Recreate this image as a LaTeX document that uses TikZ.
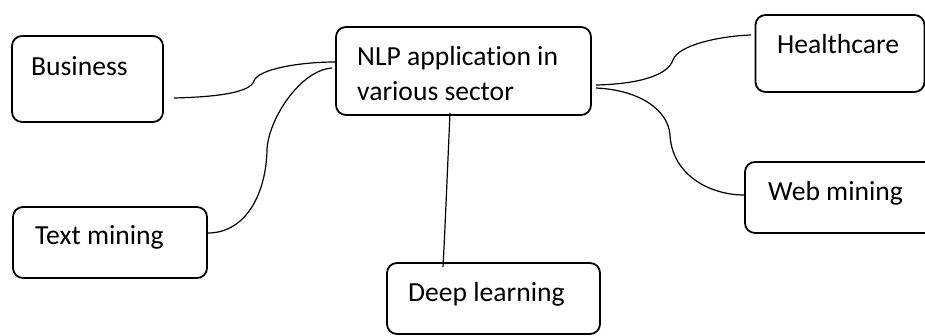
\documentclass[tikz,border=0pt]{standalone}
\usepackage{fontspec}
\setmainfont{Carlito}[Ligatures={NoCommon,NoContextual,NoRare}]
\begin{document}
\begin{tikzpicture}[x=1pt,y=-1pt,
  box/.style={draw, line width=1.8pt, rounded corners=10pt, rectangle, inner sep=0pt},
  lbl/.style={anchor=base west, inner sep=0pt, font=\fontsize{27.6}{33}\selectfont},
  link/.style={line width=1.2pt}]
\useasboundingbox (0,0) rectangle (925,335);

% boxes
\node[box, minimum width=151pt, minimum height=86pt] (bus)  at (87.5,79) {};
\node[box, minimum width=255pt, minimum height=88pt] (cen)  at (463.5,71) {};
\node[box, minimum width=169pt, minimum height=77pt] (hc)   at (840,53.5) {};
\node[box, minimum width=200pt, minimum height=71pt] (web)  at (845,197.5) {};
\node[box, minimum width=194pt, minimum height=71pt] (txt)  at (110,242.5) {};
\node[box, minimum width=213pt, minimum height=71pt] (deep) at (493.5,298.5) {};

% labels
\node[lbl] (busl)  at (31,75)  {Business};
\node[lbl] (cenl1) at (357,65) {NLP application in};
\node[lbl] (cenl2) at (357,100) {various sector};
\node[lbl] (hcl)   at (777,53) {Healthcare};
\node[lbl] (webl)  at (768,200) {Web mining};
\node[lbl] (txtl)  at (35,244) {Text mining};
\node[lbl] (deepl) at (408,301.5) {Deep learning};

% connectors
\draw[link] ([xshift=10pt,yshift=-19pt]bus.east)
  .. controls (215,97) and (250,93) .. (254,81)
  .. controls (258,69) and (300,62) .. ([yshift=9pt]cen.west);
\draw[link] ([xshift=-3pt,yshift=3pt]cen.west)
  .. controls (300,70) and (268,120) .. (267,150)
  .. controls (266,195) and (245,233) .. ([yshift=9.5pt]txt.east);
\draw[link] ([xshift=-13.5pt,yshift=3pt]cen.south)
  .. controls (447,180) and (445,230) .. ([xshift=-50.5pt,yshift=-5pt]deep.north);
\draw[link] ([xshift=4pt,yshift=-14pt]cen.east)
  .. controls (640,84) and (668,75) .. (673,60)
  .. controls (678,45) and (720,36) .. ([xshift=-3.5pt,yshift=18.5pt]hc.west);
\draw[link] ([xshift=4pt,yshift=-17pt]cen.east)
  .. controls (640,90) and (668,110) .. (670,135)
  .. controls (672,175) and (710,195) .. ([yshift=2.5pt]web.west);
\end{tikzpicture}
\end{document}
